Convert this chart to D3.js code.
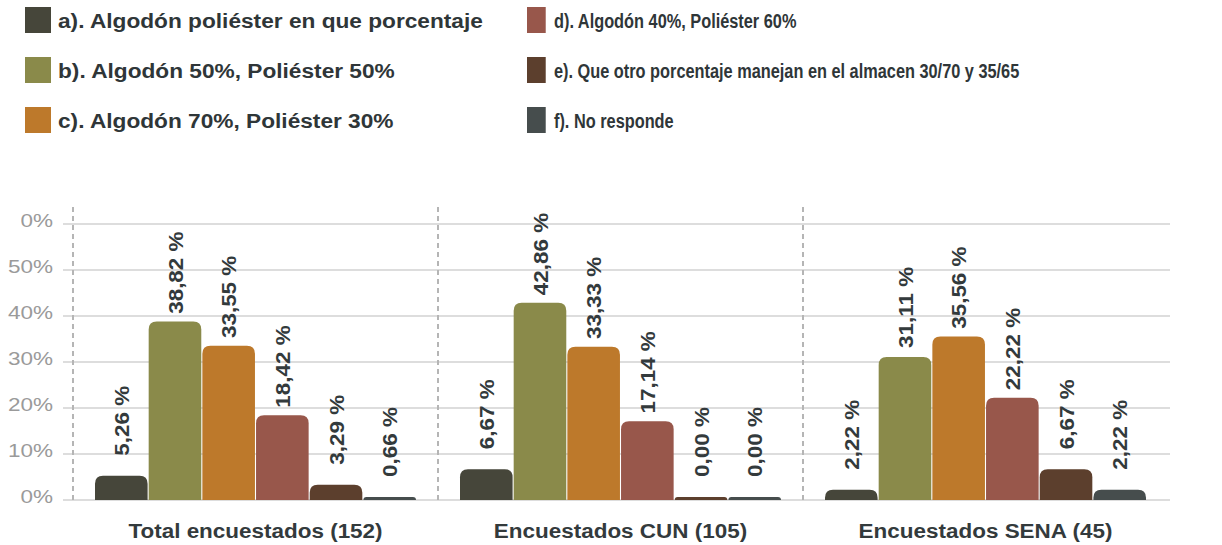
<!DOCTYPE html>
<html>
<head>
<meta charset="utf-8">
<script src="https://cdn.jsdelivr.net/npm/d3@7"></script>
<style>
  body { margin: 0; background: #fff; }
  svg { display: block; font-family: "Liberation Sans", Arial, Helvetica, sans-serif; }
</style>
</head>
<body>
<div id="chart"></div>
<script>
/*******************************/
/*            Data             */
/*******************************/

var categories = ["Total encuestados (152)", "Encuestados CUN (105)", "Encuestados SENA (45)"];

var series = [
  "a). Algodón poliéster en que porcentaje",
  "b). Algodón 50%, Poliéster 50%",
  "c). Algodón 70%, Poliéster 30%",
  "d). Algodón 40%, Poliéster 60%",
  "e). Que otro porcentaje manejan en el almacen 30/70 y 35/65",
  "f). No responde"
];

// one row per series, one value per category
var values_a = [5.26, 6.67, 2.22];
var values_b = [38.82, 42.86, 31.11];
var values_c = [33.55, 33.33, 35.56];
var values_d = [18.42, 17.14, 22.22];
var values_e = [3.29, 0.00, 6.67];
var values_f = [0.66, 0.00, 2.22];
var all_values = [values_a, values_b, values_c, values_d, values_e, values_f];

var colors = ["#46463a", "#8a8a4a", "#bd792b", "#98574b", "#5c3f2d", "#464d4d"];

var y_ticks = [0, 10, 20, 30, 40, 50, 60];

/*******************************/
/*          Layout             */
/*******************************/

var width = 1222, height = 545;
var wide = 1.07; // original font runs a bit wider than Liberation Sans

var svg = d3.select("#chart").append("svg")
  .attr("width", width)
  .attr("height", height);

var y = d3.scaleLinear().domain([0, 60]).range([500, 224]);

var x0 = d3.scaleBand()
  .domain(categories)
  .range([73, 1168]);

var x1 = d3.scaleBand()
  .domain(series)
  .range([22, 343])
  .paddingInner(0.02);

// rows as {cat, ser, value, i}
var bars = [];
categories.forEach(function(cat, ci) {
  series.forEach(function(ser, si) {
    bars.push({ cat: cat, ser: ser, value: all_values[si][ci], i: si });
  });
});

/*******************************/
/*        Grid and axis        */
/*******************************/

var grid = svg.append("g");
grid.selectAll("line")
  .data(y_ticks)
  .enter().append("line")
  .attr("x1", 63).attr("x2", 1170)
  .attr("y1", function(d) { return y(d); })
  .attr("y2", function(d) { return y(d); })
  .attr("stroke", "#dddddd")
  .attr("stroke-width", 2);

// the top label is cut on the left in the original, only "0%" shows
svg.append("clipPath").attr("id", "tick-clip")
  .append("rect").attr("x", 21).attr("y", 0).attr("width", 60).attr("height", 545);

svg.append("g").selectAll("g")
  .data(y_ticks)
  .enter().append("g")
  .attr("clip-path", function(d) { return d == 60 ? "url(#tick-clip)" : null; })
  .append("text")
  .attr("transform", function(d) { return "translate(53," + (y(d) + 3) + ") scale(1.25,1)"; })
  .attr("text-anchor", "end")
  .attr("fill", "#9a9a9a")
  .style("font-size", "18px")
  .text(function(d) { return d + "%"; });

// dashed separators between groups
var seps = categories.map(function(c) { return x0(c); });
svg.append("g").selectAll("line")
  .data(seps)
  .enter().append("line")
  .attr("x1", function(d) { return d; })
  .attr("x2", function(d) { return d; })
  .attr("y1", 207).attr("y2", 500)
  .attr("stroke", "#b5b5b5")
  .attr("stroke-width", 2)
  .attr("stroke-dasharray", "5,4");

/*******************************/
/*            Bars             */
/*******************************/

function bar_path(x, top, w, bottom, r) {
  var h = bottom - top;
  r = Math.min(r, h, w / 2);
  return "M" + x + "," + bottom +
    "V" + (top + r) +
    "Q" + x + "," + top + " " + (x + r) + "," + top +
    "H" + (x + w - r) +
    "Q" + (x + w) + "," + top + " " + (x + w) + "," + (top + r) +
    "V" + bottom + "Z";
}

function bar_top(d) {
  return Math.min(y(d.value), y(0) - 3); // tiny bars stay visible
}

svg.append("g").selectAll("path")
  .data(bars)
  .enter().append("path")
  .attr("d", function(d) {
    return bar_path(x0(d.cat) + x1(d.ser), bar_top(d), x1.bandwidth(), y(0), 8);
  })
  .attr("fill", function(d) { return colors[d.i]; });

// value labels, rotated
svg.append("g").selectAll("text")
  .data(bars)
  .enter().append("text")
  .attr("transform", function(d) {
    var cx = x0(d.cat) + x1(d.ser) + x1.bandwidth() / 2;
    return "translate(" + cx + "," + (bar_top(d) - 90) + ") rotate(-90) scale(" + wide + ",1)";
  })
  .attr("dy", "0.36em")
  .attr("text-anchor", "end")
  .attr("fill", "#333a3c")
  .style("font-size", "21px")
  .style("font-weight", "bold")
  .text(function(d) { return d.value.toFixed(2).replace(".", ",") + " %"; });

// category labels
svg.append("g").selectAll("text")
  .data(categories)
  .enter().append("text")
  .attr("transform", function(d) {
    return "translate(" + (x0(d) + x0.bandwidth() / 2) + ",538) scale(" + wide + ",1)";
  })
  .attr("text-anchor", "middle")
  .attr("fill", "#333a3c")
  .style("font-size", "21px")
  .style("font-weight", "bold")
  .text(function(d) { return d; });

/*******************************/
/*           Legend            */
/*******************************/

var legend_cols = [
  { x: 25, sx: 1, tx: 58 },
  { x: 527, sx: 0.72, tx: 554 }
];

series.forEach(function(ser, i) {
  var col = legend_cols[Math.floor(i / 3)];
  var row = i % 3;
  var top = 7 + row * 50;
  svg.append("rect")
    .attr("x", col.x).attr("y", top)
    .attr("width", 26 * col.sx).attr("height", 26)
    .attr("fill", colors[i]);
  svg.append("text")
    .attr("transform", "translate(" + col.tx + "," + (top + 21) + ") scale(" + (col.sx * 1.08) + ",1)")
    .attr("fill", "#2f3638")
    .style("font-size", "21px")
    .style("font-weight", "bold")
    .text(ser);
});
</script>
</body>
</html>
